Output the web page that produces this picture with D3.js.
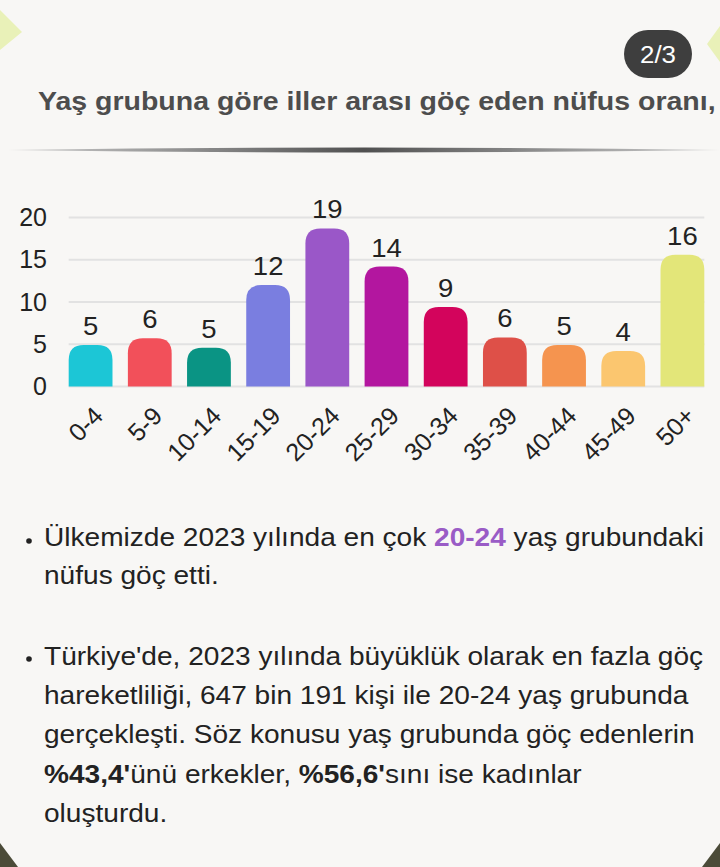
<!DOCTYPE html>
<html>
<head>
<meta charset="utf-8">
<script src="https://cdn.jsdelivr.net/npm/d3@7"></script>
<style>
html,body{margin:0;padding:0;background:#f8f7f5;}
svg{display:block;font-family:"Liberation Sans",Arial,sans-serif;}
</style>
</head>
<body>
<div id="chart"></div>
<script>
var ageGroups=["0-4","5-9","10-14","15-19","20-24","25-29","30-34","35-39","40-44","45-49","50+"];
var shares=[4.9,5.7,4.6,12.0,18.7,14.2,9.4,5.8,4.9,4.2,15.6];
var barColors=["#1cc6d6","#f2505a","#0a9484","#7a7ee0","#9a57c8","#b3169f","#d3045c","#de5048","#f5944f","#fbc66f","#e3e679"];
var yTicks=[0,5,10,15,20];
var titleText="Yaş grubuna göre iller arası göç eden nüfus oranı,";
var pageLabel="2/3";

var W=720,H=867;
var svg=d3.select("#chart").append("svg").attr("width",W).attr("height",H);

svg.append("rect").attr("width",W).attr("height",H).attr("fill","#f8f7f5");

//corner decorations
svg.append("path").attr("d","M0,10 L22,32 L0,50 Z").attr("fill","#e9f1b8");
svg.append("path").attr("d","M720,26 L707,44 L720,62 Z").attr("fill","#e9f1b8");
svg.append("path").attr("d","M0,843 L18,867 L0,867 Z").attr("fill","#4b4b38");
svg.append("path").attr("d","M720,843 L702,867 L720,867 Z").attr("fill","#4b4b38");

//page badge
svg.append("rect").attr("x",624).attr("y",30).attr("width",68).attr("height",48)
	.attr("rx",24).attr("fill","#3e3e3e");
svg.append("text").attr("text-anchor","middle")
	.attr("transform","translate(658,63) scale(1.08,1)")
	.attr("font-size",24).attr("fill","#fff").text(pageLabel);

//title (the source image is a little stretched sideways)
svg.append("text").attr("transform","translate(38,110) scale(1.14,1)")
	.attr("font-size",25).attr("font-weight","bold")
	.attr("fill","#4d4d4d").text(titleText);

//divider
var grad=svg.append("defs").append("linearGradient").attr("id","divGrad");
grad.append("stop").attr("offset","0%").attr("stop-color","#cfcfcf");
grad.append("stop").attr("offset","50%").attr("stop-color","#505050");
grad.append("stop").attr("offset","100%").attr("stop-color","#cfcfcf");
svg.append("path").attr("d","M8,150 Q365,145 720,150 Q365,155 8,150 Z").attr("fill","url(#divGrad)");

//chart
var x=d3.scaleBand().domain(ageGroups).range([61,712]).paddingInner(0.26).paddingOuter(0.13);
var y=d3.scaleLinear().domain([0,20]).range([386.5,217.5]);
var bw=x.bandwidth();
var gridX0=x(ageGroups[0]),gridX1=x(ageGroups[ageGroups.length-1])+bw;

var g=svg.append("g");
g.selectAll(".grid").data(yTicks).enter().append("line")
	.attr("x1",gridX0).attr("x2",gridX1)
	.attr("y1",function(d){return y(d);}).attr("y2",function(d){return y(d);})
	.attr("stroke","#e2e2e2").attr("stroke-width",2);

var yAxis=g.append("g").attr("transform","translate(47,0)")
	.call(d3.axisLeft(y).tickValues(yTicks).tickSize(0).tickPadding(0));
yAxis.select(".domain").remove();
yAxis.selectAll("text").attr("font-size",25).attr("fill","#222")
	.attr("font-family","Liberation Sans,Arial,sans-serif");

function barPath(x0,w,top,bottom){
	var r=Math.min(15,(bottom-top),w/2);
	return "M"+x0+","+bottom+" L"+x0+","+(top+r)+
		" Q"+x0+","+top+" "+(x0+r)+","+top+
		" L"+(x0+w-r)+","+top+
		" Q"+(x0+w)+","+top+" "+(x0+w)+","+(top+r)+
		" L"+(x0+w)+","+bottom+" Z";
}

g.selectAll(".bar").data(shares).enter().append("path")
	.attr("d",function(d,i){return barPath(x(ageGroups[i]),bw,y(d),y(0));})
	.attr("fill",function(d,i){return barColors[i];});

var fmt=d3.format(".0f");
g.selectAll(".val").data(shares).enter().append("text")
	.attr("transform",function(d,i){
		return "translate("+(x(ageGroups[i])+bw/2)+","+(y(d)-10)+") scale(1.1,1)";
	})
	.attr("text-anchor","middle").attr("font-size",25).attr("fill","#222")
	.text(function(d){return fmt(d);});

var xAxis=g.append("g").attr("transform","translate(0,386.5)")
	.call(d3.axisBottom(x).tickSize(0).tickPadding(0));
xAxis.select(".domain").remove();
xAxis.selectAll("text")
	.attr("font-size",25).attr("fill","#222")
	.attr("font-family","Liberation Sans,Arial,sans-serif")
	.attr("text-anchor","end").attr("dy",null).attr("y",0)
	.attr("transform","translate(14,31) rotate(-45)");

//notes
function bullet(cy){
	svg.append("circle").attr("cx",29).attr("cy",cy).attr("r",2.8).attr("fill","#222");
}
bullet(541);
bullet(659);
var notes=svg.append("g").attr("font-size",26).attr("fill","#222")
	.attr("transform","translate(44,0) scale(1.08,1)");
var t1=notes.append("text").attr("x",0).attr("y",546);
t1.append("tspan").text("Ülkemizde 2023 yılında en çok ");
t1.append("tspan").attr("font-weight","bold").attr("fill","#9a5cc6").text("20-24");
t1.append("tspan").text(" yaş grubundaki");
notes.append("text").attr("x",0).attr("y",584).text("nüfus göç etti.");

var lines2=["Türkiye'de, 2023 yılında büyüklük olarak en fazla göç",
	"hareketliliği, 647 bin 191 kişi ile 20-24 yaş grubunda",
	"gerçekleşti. Söz konusu yaş grubunda göç edenlerin"];
var base2=[665,704,743];
lines2.forEach(function(s,i){
	notes.append("text").attr("x",0).attr("y",base2[i]).text(s);
});
var t4=notes.append("text").attr("x",0).attr("y",783);
t4.append("tspan").attr("font-weight","bold").text("%43,4'");
t4.append("tspan").text("ünü erkekler, ");
t4.append("tspan").attr("font-weight","bold").text("%56,6'");
t4.append("tspan").text("sını ise kadınlar");
notes.append("text").attr("x",0).attr("y",822).text("oluşturdu.");
</script>
</body>
</html>
